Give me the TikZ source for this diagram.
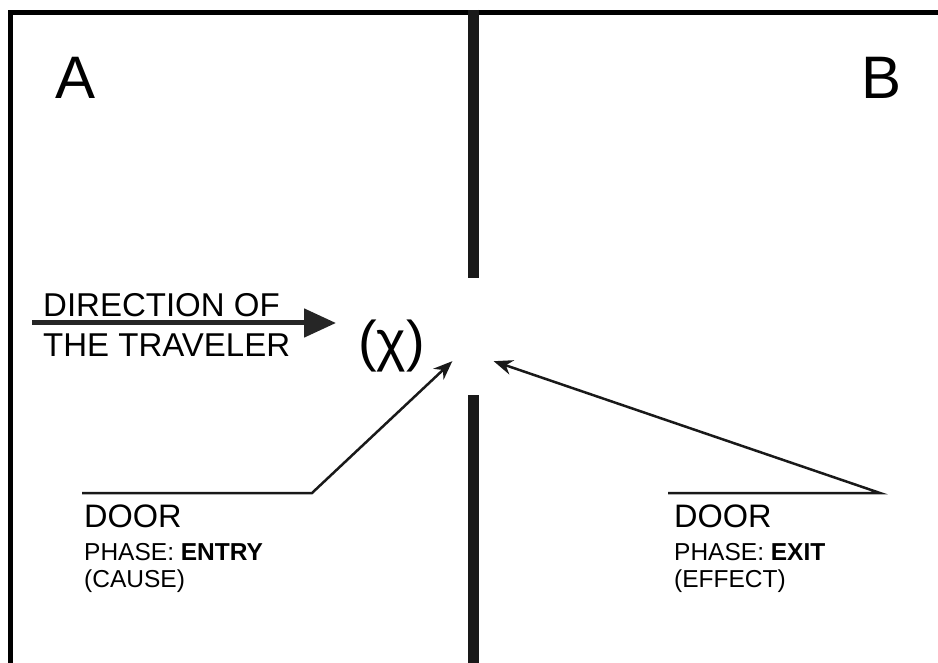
\documentclass[tikz,border=0pt]{standalone}
\usepackage{fontspec}
\setmainfont{Liberation Sans}
\usetikzlibrary{arrows.meta, positioning}
\tikzset{
  frameline/.style={line width=5pt, black},
  wall/.style={line width=11pt, black!90},
  roomlabel/.style={font=\fontsize{60}{60}\selectfont, inner sep=0pt},
  dirlabel/.style={font=\fontsize{33}{40}\selectfont, align=left, inner sep=0pt},
  chilabel/.style={font=\fontsize{56}{56}\selectfont, inner sep=0pt},
  doorlabel/.style={font=\fontsize{32.5}{32}\selectfont, inner sep=0pt},
  phaselabel/.style={font=\fontsize{24.5}{27}\selectfont, align=left, inner sep=0pt},
  dirarrow/.style={-{Triangle[length=32pt, width=28pt]}, line width=5pt, black!85},
  doorarrow/.style={-{Stealth[length=19pt, width=15pt]}, line width=2.5pt, black!90}
}
\newcommand{\bold}[1]{\textbf{#1}}

\begin{document}
\begin{tikzpicture}[x=1pt, y=-1pt]
  \useasboundingbox (0,0) rectangle (938,663);
  % frame and wall
  \draw[frameline] (10.5,663) -- (10.5,12.5) -- (938,12.5);
  \draw[wall] (473.5,10) -- (473.5,278);
  \draw[wall] (473.5,395) -- (473.5,663);

  % rooms
  \node[roomlabel, anchor=base west] (roomA) at (55,99) {A};
  \node[roomlabel, anchor=base east] (roomB) at (902,99) {B};

  % traveler (base = last line)
  \node[dirlabel, anchor=base west] (dir) at (43,356) {DIRECTION OF\\THE TRAVELER};
  \node[chilabel, anchor=base west] (chi) at (358,360) {(χ)};
  \node[minimum width=41pt, minimum height=50pt, inner sep=0pt] (gap) at (473,336) {};
  \coordinate (dirstart) at (32,323);

  % doors
  \node[doorlabel, anchor=base west] (doorA) at (84,527) {DOOR};
  \node[phaselabel, anchor=base west] (phaseA) at (84,587) {PHASE: \bold{ENTRY}\\(CAUSE)};
  \node[doorlabel, anchor=base west] (doorB) at (674,527) {DOOR};
  \node[phaselabel, anchor=base west] (phaseB) at (674,587) {PHASE: \bold{EXIT}\\(EFFECT)};
  \coordinate (entryleft) at (82,493);
  \coordinate (entrybend) at (312,493);
  \coordinate (exitleft) at (668,493);
  \coordinate (exitbend) at (880,493);

  \draw[dirarrow] (dirstart) -- ([xshift=-22pt]chi.west |- dirstart);
  \draw[doorarrow] (entryleft) -- (entrybend) -- (gap.south west);
  \draw[doorarrow] (exitleft) -- (exitbend) -- (gap.south east);
\end{tikzpicture}
\end{document}
